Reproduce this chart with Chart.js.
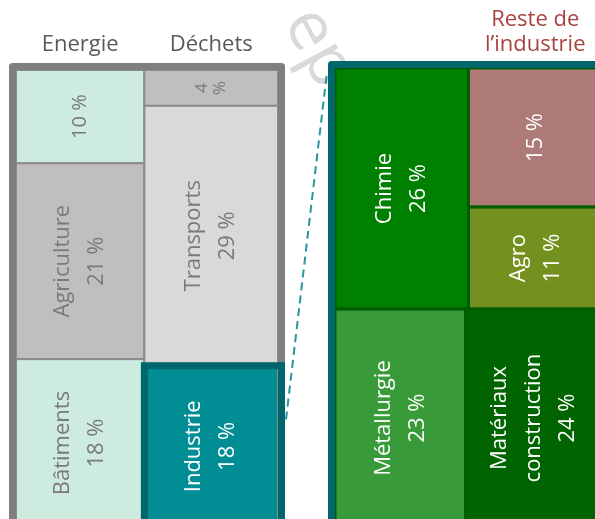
<!DOCTYPE html>
<html lang="fr">
<head>
<meta charset="utf-8">
<title>Émissions par secteur</title>
<script src="https://cdn.jsdelivr.net/npm/chart.js@4.4.1/dist/chart.umd.min.js"></script>
<style>
  html, body { margin: 0; padding: 0; background: #fff; overflow: hidden; width: 595px; height: 519px; }
  canvas { position: absolute; left: 0; top: 0; }
</style>
</head>
<body>
<canvas id="secteurs" width="640" height="540"></canvas>
<canvas id="industrie" width="640" height="540"></canvas>
<script>
// Parts des émissions par secteur (%), une colonne par groupe
const colonnes = ['Energie', 'Déchets'];
const secteursCol1 = ['Energie', 'Agriculture', 'Bâtiments'];
const partsCol1 = [10, 21, 18];
const secteursCol2 = ['Déchets', 'Transports', 'Industrie'];
const partsCol2 = [4, 29, 18];

// Détail du reste de l'industrie (%)
const titreIndustrie = ['Reste de', 'l\u2019industrie'];
const branchesHaut = ['Chimie'];
const partsHaut = [26];
const branchesEmpilees = ['', 'Agro'];
const partsEmpilees = [15, 11];
const branchesBas = ['Métallurgie', 'Matériaux construction'];
const partsBas = [23, 24];

const FONT = '"Open Sans", sans-serif';
const somme = arr => arr.reduce((a, b) => a + b, 0);

// couleurs
const fondsCol1 = ['#cdebdf', '#bfbfbf', '#cdebdf'];
const fondsCol2 = ['#bfbfbf', '#d9d9d9', '#008d93'];
const fondsHaut = ['#008000'];
const fondsEmpiles = ['#ad7a77', '#74901f'];
const fondsBas = ['#389a38', '#006400'];

// découpe une bande verticale [x0, x1] de haut en bas, proportionnellement aux parts
function empiler(noms, parts, x0, x1, yHaut, yBas, fonds, out) {
  const total = somme(parts);
  let y = yHaut;
  parts.forEach((v, i) => {
    const h = v / total * (yHaut - yBas);
    out.push({ nom: noms[i], valeur: v, x0, x1, y0: y - h, y1: y, fond: fonds[i] });
    y -= h;
  });
}

// découpe une bande horizontale [yBas, yHaut] de gauche à droite
function aligner(noms, parts, x0, x1, yHaut, yBas, fonds, out) {
  const total = somme(parts);
  let x = x0;
  parts.forEach((v, i) => {
    const w = v / total * (x1 - x0);
    out.push({ nom: noms[i], valeur: v, x0: x, x1: x + w, y0: yBas, y1: yHaut, fond: fonds[i] });
    x += w;
  });
}

// panneau de gauche : deux colonnes, largeur selon le total de chaque colonne
const cellulesSecteurs = [];
const total1 = somme(partsCol1), total2 = somme(partsCol2);
const xSep = total1 / (total1 + total2) * 100;
empiler(secteursCol1, partsCol1, 0, xSep, 100, 0, fondsCol1, cellulesSecteurs);
empiler(secteursCol2, partsCol2, xSep, 100, 100, 0, fondsCol2, cellulesSecteurs);
// la première case de chaque colonne porte le nom en en-tête
cellulesSecteurs[0].sansNom = true;
cellulesSecteurs[3].sansNom = true;
cellulesSecteurs.forEach(c => {
  c.texte = c.nom === 'Industrie' ? '#ffffff' : '#7a7a7a';
  c.bord = '#8c8c8c';
});

// panneau de droite : deux rangées
const cellulesIndustrie = [];
const totalHaut = somme(partsHaut) + somme(partsEmpilees);
const totalBas = somme(partsBas);
const ySep = totalBas / (totalHaut + totalBas) * 100;
const xChimie = somme(partsHaut) / totalHaut * 100;
aligner(branchesHaut, partsHaut, 0, xChimie, 100, ySep, fondsHaut, cellulesIndustrie);
empiler(branchesEmpilees, partsEmpilees, xChimie, 100, 100, ySep, fondsEmpiles, cellulesIndustrie);
aligner(branchesBas, partsBas, 0, 100, ySep, 0, fondsBas, cellulesIndustrie);
cellulesIndustrie.forEach(c => { c.texte = '#ffffff'; c.bord = '#005c00'; });

function pixels(chart, c) {
  const { x, y } = chart.scales;
  return {
    left: x.getPixelForValue(c.x0), right: x.getPixelForValue(c.x1),
    top: y.getPixelForValue(c.y1), bottom: y.getPixelForValue(c.y0)
  };
}

function texteVertical(ctx, cx, cy, lignes, taille, couleur, interligne) {
  ctx.save();
  ctx.translate(cx, cy);
  ctx.rotate(-Math.PI / 2);
  ctx.fillStyle = couleur;
  ctx.font = taille + 'px ' + FONT;
  ctx.textAlign = 'center';
  ctx.textBaseline = 'middle';
  lignes.forEach((l, i) => ctx.fillText(l, 0, (i - (lignes.length - 1) / 2) * interligne));
  ctx.restore();
}

function dessinerCellules(chart, cellules, epaisseur) {
  const ctx = chart.ctx;
  cellules.forEach(c => {
    const r = pixels(chart, c);
    ctx.fillStyle = c.fond;
    ctx.fillRect(r.left, r.top, r.right - r.left, r.bottom - r.top);
    ctx.strokeStyle = c.bord;
    ctx.lineWidth = epaisseur;
    ctx.strokeRect(r.left, r.top, r.right - r.left, r.bottom - r.top);
  });
  cellules.forEach(c => {
    const r = pixels(chart, c);
    const cx = (r.left + r.right) / 2, cy = (r.top + r.bottom) / 2;
    const hauteur = r.bottom - r.top;
    if (c.sansNom) {
      // petites cases : valeur seule, coupée si elle ne tient pas
      const taille = hauteur < 50 ? 17 : 20;
      ctx.font = taille + 'px ' + FONT;
      const lignes = ctx.measureText(c.valeur + ' %').width > hauteur - 8
        ? [String(c.valeur), '%'] : [c.valeur + ' %'];
      texteVertical(ctx, cx, cy, lignes, taille, c.texte, 18);
    } else {
      const lignes = (c.nom ? c.nom.split(' ') : []).concat([c.valeur + ' %']);
      texteVertical(ctx, cx, cy, lignes, 22, c.texte, 34);
    }
  });
}

function cadre(ctx, area, couleur, ep) {
  ctx.save();
  ctx.strokeStyle = couleur;
  ctx.lineWidth = ep;
  ctx.lineJoin = 'round';
  ctx.strokeRect(area.left - ep / 2, area.top - ep / 2,
    area.right - area.left + ep, area.bottom - area.top + ep);
  ctx.restore();
}

const panneauSecteurs = {
  id: 'panneauSecteurs',
  beforeDraw(chart) {
    const ctx = chart.ctx;
    // filigrane
    ctx.save();
    ctx.translate(283, 22);
    ctx.rotate(62 * Math.PI / 180);
    ctx.fillStyle = '#d9d9d9';
    ctx.font = '68px ' + FONT;
    ctx.fillText('ep', 0, 0);
    ctx.restore();
  },
  afterDraw(chart) {
    const ctx = chart.ctx, area = chart.chartArea;
    dessinerCellules(chart, cellulesSecteurs, 2);
    cadre(ctx, area, '#7f7f7f', 7);
    // en-têtes des colonnes
    ctx.save();
    ctx.fillStyle = '#595959';
    ctx.font = '22px ' + FONT;
    ctx.textAlign = 'center';
    ctx.textBaseline = 'middle';
    const x = chart.scales.x;
    ctx.fillText(colonnes[0], x.getPixelForValue(xSep / 2), 45);
    ctx.fillText(colonnes[1], x.getPixelForValue((xSep + 100) / 2), 45);
    ctx.restore();
    // contour de l'industrie
    const ind = cellulesSecteurs.find(c => c.nom === 'Industrie');
    const r = pixels(chart, ind);
    ctx.save();
    ctx.strokeStyle = '#00666b';
    ctx.lineWidth = 7;
    ctx.strokeRect(r.left, r.top, area.right + 3.5 - r.left, r.bottom + 20 - r.top);
    ctx.restore();
  }
};

const panneauIndustrie = {
  id: 'panneauIndustrie',
  afterDraw(chart) {
    const ctx = chart.ctx, area = chart.chartArea;
    dessinerCellules(chart, cellulesIndustrie, 3);
    cadre(ctx, area, '#00676c', 7);
    // titre au-dessus de la colonne de droite
    ctx.save();
    ctx.fillStyle = '#a8443f';
    ctx.font = '22px ' + FONT;
    ctx.textAlign = 'center';
    ctx.textBaseline = 'middle';
    const xt = chart.scales.x.getPixelForValue((xChimie + 100) / 2);
    ctx.fillText(titreIndustrie[0], xt, 20);
    ctx.fillText(titreIndustrie[1], xt, 45);
    ctx.restore();
    // liaison pointillée depuis la case Industrie
    const gauche = Chart.getChart('secteurs');
    const ind = pixels(gauche, cellulesSecteurs.find(c => c.nom === 'Industrie'));
    const xa = gauche.chartArea.right + 8;
    const ya = ind.top + (ind.bottom - ind.top) / 3;
    ctx.save();
    ctx.strokeStyle = '#2796a0';
    ctx.lineWidth = 2;
    ctx.setLineDash([8, 5]);
    ctx.beginPath();
    ctx.moveTo(xa, ya);
    ctx.lineTo(area.left - 8, area.top + 4);
    ctx.stroke();
    ctx.restore();
  }
};

function creer(id, padding, plugin) {
  return new Chart(document.getElementById(id), {
    type: 'scatter',
    data: { datasets: [] },
    options: {
      responsive: false,
      animation: false,
      devicePixelRatio: 1,
      layout: { padding },
      scales: {
        x: { type: 'linear', min: 0, max: 100, display: false },
        y: { type: 'linear', min: 0, max: 100, display: false }
      },
      plugins: { legend: { display: false }, tooltip: { enabled: false } }
    },
    plugins: [plugin]
  });
}

creer('secteurs', { left: 16, top: 70, right: 362, bottom: 13 }, panneauSecteurs);
creer('industrie', { left: 335, top: 68, right: 38, bottom: 13 }, panneauIndustrie);
</script>
</body>
</html>
